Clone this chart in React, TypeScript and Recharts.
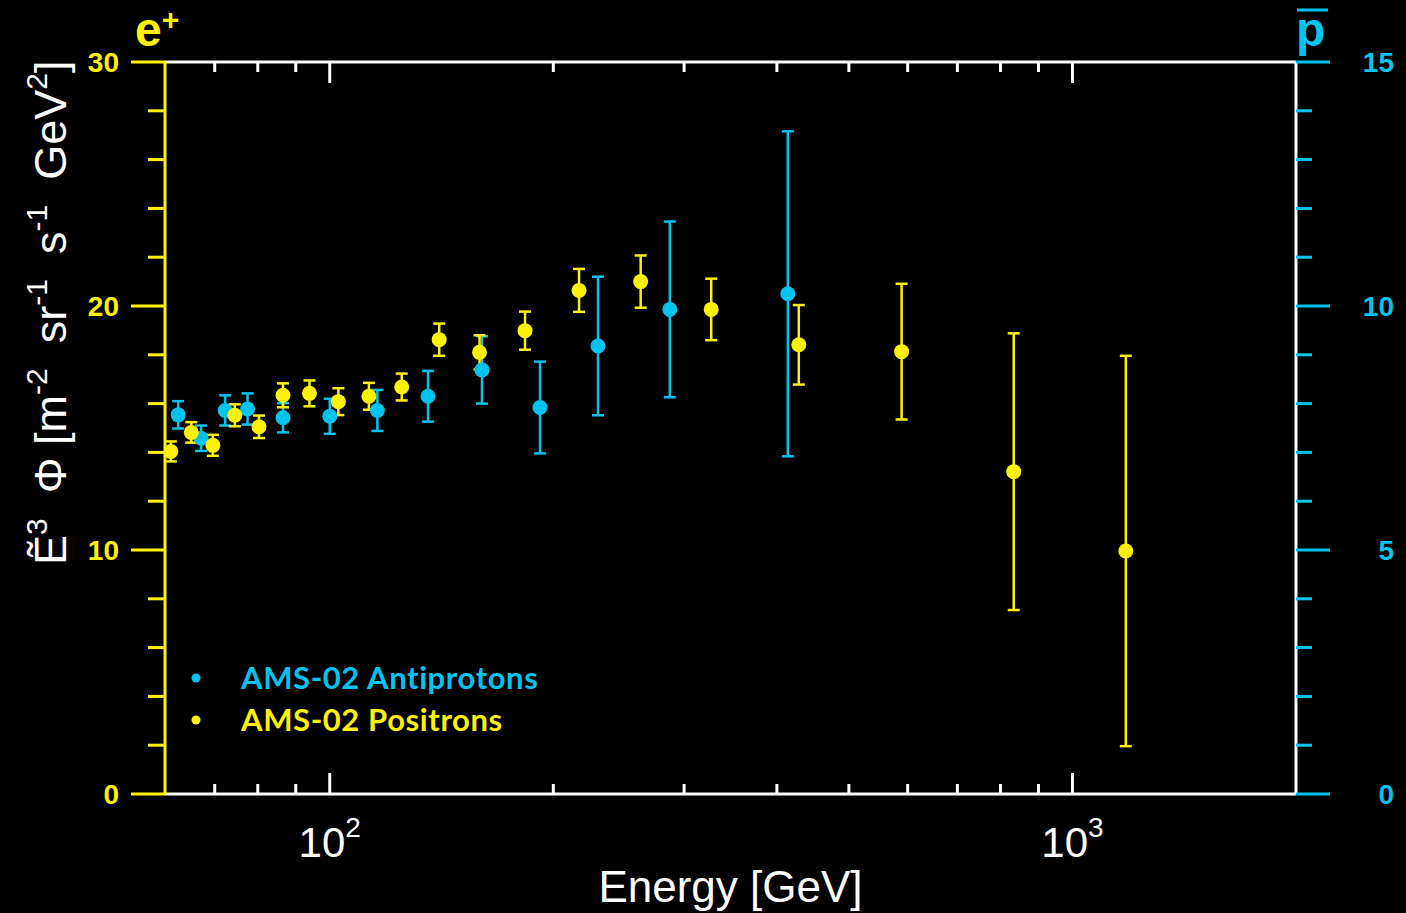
import React from "react"
import { ComposedChart, Scatter, ErrorBar, XAxis, YAxis } from "recharts"

// AMS-02 positrons (left axis, E^3 flux)
const positronEnergy = [61.1, 65.1, 69.6, 74.5, 80.3, 86.5, 93.9, 102.7, 112.9, 125.0, 140.4, 159.1, 183.2, 216.6, 262.2, 326.3, 428.1, 588.8, 833.6, 1180]
const positronFlux = [14.04, 14.82, 14.29, 15.52, 15.05, 16.34, 16.42, 16.08, 16.3, 16.68, 18.62, 18.1, 18.99, 20.64, 21.0, 19.86, 18.41, 18.13, 13.21, 9.96]
const positronError = [0.41, 0.42, 0.43, 0.45, 0.46, 0.49, 0.53, 0.55, 0.55, 0.55, 0.66, 0.7, 0.78, 0.88, 1.07, 1.26, 1.63, 2.78, 5.67, 8.0]

// AMS-02 antiprotons (right axis)
const antiprotonEnergy = [62.5, 67.1, 72.3, 77.5, 86.5, 100.0, 115.9, 135.6, 160.3, 191.9, 229.7, 287.0, 413.8]
const antiprotonFlux = [7.77, 7.29, 7.86, 7.89, 7.71, 7.74, 7.86, 8.15, 8.69, 7.92, 9.18, 9.93, 10.25]
const antiprotonError = [0.28, 0.26, 0.31, 0.32, 0.3, 0.36, 0.42, 0.52, 0.69, 0.94, 1.42, 1.8, 3.33]

const energyTicks = [70, 80, 90, 100, 200, 300, 400, 500, 600, 700, 800, 900, 1000]
const decadeExponents: Record<number, string> = { 100: "2", 1000: "3" }
const leftTicks = [0, 2, 4, 6, 8, 10, 12, 14, 16, 18, 20, 22, 24, 26, 28, 30]
const leftMajor = [0, 10, 20, 30]
const rightTicks = [0, 1, 2, 3, 4, 5, 6, 7, 8, 9, 10, 11, 12, 13, 14, 15]
const rightMajor = [0, 5, 10, 15]

const seriesNames = ["AMS-02 Antiprotons", "AMS-02 Positrons"]

const YELLOW = "#FFF200"
const CYAN = "#00C3EF"
const FONT = "'Liberation Sans', Arial, Helvetica, sans-serif"
const LEGEND_FONT = "Lato, 'Open Sans', sans-serif"

const positrons = positronEnergy.map((e, i) => ({ energy: e, flux: positronFlux[i], err: positronError[i] }))
const antiprotons = antiprotonEnergy.map((e, i) => ({ energy: e, flux: antiprotonFlux[i], err: antiprotonError[i] }))

function BottomTick({ x, y, payload }: any) {
  const exp = decadeExponents[payload.value]
  return (
    <g>
      <line x1={x} x2={x} y1={y} y2={y - (exp ? 21 : 10)} stroke="#fff" strokeWidth={3} />
      {exp && (
        <text x={x} y={y + 63} textAnchor="middle" fill="#fff" fontSize={42} fontFamily={FONT}>
          10<tspan dy={-20} fontSize={28}>{exp}</tspan>
        </text>
      )}
    </g>
  )
}

function TopTick({ x, y, payload }: any) {
  const major = !!decadeExponents[payload.value]
  return <line x1={x} x2={x} y1={y} y2={y + (major ? 21 : 10)} stroke="#fff" strokeWidth={3} />
}

function LeftTick({ x, y, payload }: any) {
  const major = leftMajor.includes(payload.value)
  return (
    <g>
      <line x1={x - (major ? 34 : 17)} x2={x} y1={y} y2={y} stroke={YELLOW} strokeWidth={3} />
      {major && (
        <text x={119} y={y + 10} textAnchor="end" fill={YELLOW} fontSize={28} fontWeight="bold" fontFamily={FONT}>
          {payload.value}
        </text>
      )}
    </g>
  )
}

function RightTick({ x, y, payload }: any) {
  const major = rightMajor.includes(payload.value)
  return (
    <g>
      <line x1={x} x2={x + (major ? 34 : 16)} y1={y} y2={y} stroke={CYAN} strokeWidth={3} />
      {major && (
        <text x={1394} y={y + 10} textAnchor="end" fill={CYAN} fontSize={28} fontWeight="bold" fontFamily={FONT}>
          {payload.value}
        </text>
      )}
    </g>
  )
}

const dot = (color: string, r: number) => (props: any) => <circle cx={props.cx} cy={props.cy} r={r} fill={color} />

export default function App() {
  return (
    <div style={{ position: "absolute", left: 0, top: 0, width: 1406, height: 913, background: "#000" }}>
      <ComposedChart width={1406} height={913} margin={{ top: 42, right: 10, bottom: 19, left: 15 }}>
        <XAxis
          xAxisId="bottom"
          dataKey="energy"
          type="number"
          scale="log"
          domain={[60, 2000]}
          allowDataOverflow
          ticks={energyTicks}
          interval={0}
          height={100}
          tickSize={0}
          tickMargin={0}
          tickLine={false}
          axisLine={{ stroke: "#fff", strokeWidth: 3 }}
          tick={<BottomTick />}
        />
        <XAxis
          xAxisId="top"
          orientation="top"
          dataKey="energy"
          type="number"
          scale="log"
          domain={[60, 2000]}
          allowDataOverflow
          ticks={energyTicks}
          interval={0}
          height={20}
          tickSize={0}
          tickMargin={0}
          tickLine={false}
          axisLine={{ stroke: "#fff", strokeWidth: 3 }}
          tick={<TopTick />}
        />
        <YAxis
          yAxisId="left"
          type="number"
          domain={[0, 30]}
          ticks={leftTicks}
          interval={0}
          width={150}
          tickSize={0}
          tickMargin={0}
          tickLine={false}
          axisLine={{ stroke: YELLOW, strokeWidth: 3 }}
          tick={<LeftTick />}
        />
        <YAxis
          yAxisId="right"
          orientation="right"
          type="number"
          domain={[0, 15]}
          ticks={rightTicks}
          interval={0}
          width={100}
          tickSize={0}
          tickMargin={0}
          tickLine={false}
          axisLine={{ stroke: "#fff", strokeWidth: 3 }}
          tick={<RightTick />}
        />
        <Scatter
          name={seriesNames[0]}
          data={antiprotons}
          dataKey="flux"
          xAxisId="bottom"
          yAxisId="right"
          shape={dot(CYAN, 7.5)}
          isAnimationActive={false}
        >
          <ErrorBar dataKey="err" direction="y" width={6} stroke={CYAN} strokeWidth={2.5} />
        </Scatter>
        <Scatter
          name={seriesNames[1]}
          data={positrons}
          dataKey="flux"
          xAxisId="bottom"
          yAxisId="left"
          shape={dot(YELLOW, 7.5)}
          isAnimationActive={false}
        >
          <ErrorBar dataKey="err" direction="y" width={6} stroke={YELLOW} strokeWidth={2.5} />
        </Scatter>

        {/* axis titles */}
        <text x={730.5} y={902} textAnchor="middle" fill="#fff" fontSize={44} fontFamily={FONT}>
          Energy [GeV]
        </text>
        <text
          transform="translate(66, 565) rotate(-90)"
          fill="#fff"
          fontSize={45}
          fontFamily={FONT}
          style={{ whiteSpace: "pre" }}
        >
          Ẽ<tspan dy={-19} fontSize={30}>3</tspan>
          <tspan dy={19}>{"  Φ [m"}</tspan>
          <tspan dy={-19} fontSize={30}>-2</tspan>
          <tspan dy={19}>{"  sr"}</tspan>
          <tspan dy={-19} fontSize={30}>-1</tspan>
          <tspan dy={19}>{"  s"}</tspan>
          <tspan dy={-19} fontSize={30}>-1</tspan>
          <tspan dy={19}>{"  GeV"}</tspan>
          <tspan dy={-19} fontSize={30}>2</tspan>
          <tspan dy={19}>]</tspan>
        </text>

        {/* axis species labels */}
        <text x={135} y={46} fill={YELLOW} fontSize={48} fontWeight="bold" fontFamily={FONT}>
          e<tspan dy={-16} fontSize={30}>+</tspan>
        </text>
        <text x={1296} y={46} fill={CYAN} fontSize={48} fontWeight="bold" fontFamily={FONT}>
          p
        </text>
        <line x1={1297} x2={1328} y1={10} y2={10} stroke={CYAN} strokeWidth={3} />

        {/* legend */}
        <circle cx={196} cy={678} r={4.5} fill={CYAN} />
        <text x={241} y={689} fill={CYAN} fontSize={31} fontWeight="bold" fontFamily={LEGEND_FONT} letterSpacing={0.6}>
          {seriesNames[0]}
        </text>
        <circle cx={196} cy={720} r={4.5} fill={YELLOW} />
        <text x={241} y={731} fill={YELLOW} fontSize={31} fontWeight="bold" fontFamily={LEGEND_FONT} letterSpacing={0.6}>
          {seriesNames[1]}
        </text>
      </ComposedChart>
    </div>
  )
}
